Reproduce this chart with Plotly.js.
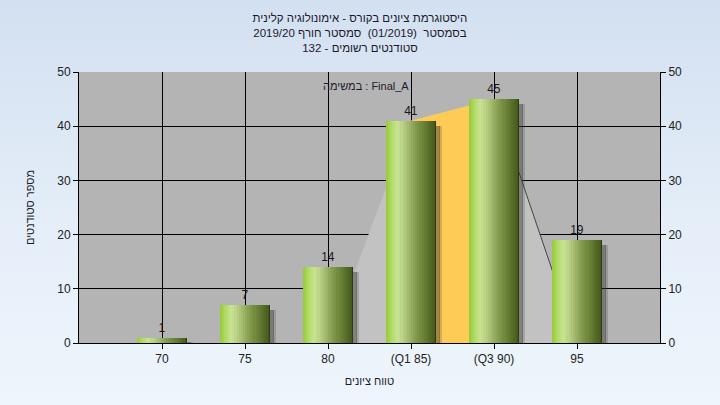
<!DOCTYPE html>
<html>
<head>
<meta charset="utf-8">
<script src="https://cdn.plot.ly/plotly-3.0.1.min.js"></script>
<style>
  html, body { margin: 0; padding: 0; }
  #chart { width: 720px; height: 405px; background: linear-gradient(to bottom, #d3e0f1 0%, #e6eff9 60%, #eef5fc 100%); }
</style>
</head>
<body>
<div id="chart"></div>
<script>
// ---- data ----
const categories = ['70', '75', '80', '(Q1 85)', '(Q3 90)', '95'];
const counts = [1, 7, 14, 41, 45, 19];
const spreadValues = [0, 0, 0, 41, 45, 0];        // light-gray spread area
const iqrValues = [null, null, null, 41, 45, null]; // Q1..Q3 highlighted band
const tailX = ['(Q3 90)', '95'];
const tailY = [45, 0];

const titleLines = [
  'היסטוגרמת ציונים בקורס - אימונולוגיה קלינית',
  'בסמסטר  (01/2019)  סמסטר חורף 2019/20',
  'סטודנטים רשומים - 132'
];
const assignmentLabel = 'במשימה : Final_A';
const xTitle = 'טווח ציונים';
const yTitle = 'מספר סטודנטים';

// ---- styling helpers ----
function hex2rgb(h) { return [parseInt(h.slice(1,3),16), parseInt(h.slice(3,5),16), parseInt(h.slice(5,7),16)]; }
const stops = [
  [0.00, '#96c834'], [0.10, '#add960'], [0.24, '#cae493'], [0.40, '#acc278'],
  [0.62, '#7e9748'], [0.85, '#586f28'], [1.00, '#43561a']
];
function gradColor(t) {
  for (let i = 0; i < stops.length - 1; i++) {
    const [t0, c0] = stops[i], [t1, c1] = stops[i + 1];
    if (t >= t0 && t <= t1) {
      const f = (t - t0) / (t1 - t0), a = hex2rgb(c0), b = hex2rgb(c1);
      return 'rgb(' + a.map((v, k) => Math.round(v + (b[k] - v) * f)).join(',') + ')';
    }
  }
  return stops[stops.length - 1][1];
}

const W = 0.61, N = 24;
const traces = [];

// spread area and IQR band (main subplot, behind bars)
traces.push({ type: 'scatter', mode: 'lines', x: categories, y: spreadValues, fill: 'tozeroy',
  fillcolor: '#c2c2c2', line: { width: 0, color: '#c2c2c2' }, hoverinfo: 'skip', showlegend: false });
traces.push({ type: 'scatter', mode: 'lines', x: categories, y: iqrValues, fill: 'tozeroy',
  fillcolor: '#fecb57', line: { width: 0, color: '#fecb57' }, hoverinfo: 'skip', showlegend: false });
traces.push({ type: 'scatter', mode: 'lines', x: tailX, y: tailY,
  line: { width: 1, color: '#444444' }, hoverinfo: 'skip', showlegend: false });

// right axis companion
traces.push({ type: 'scatter', x: categories, y: counts, yaxis: 'y2', mode: 'markers',
  marker: { opacity: 0 }, hoverinfo: 'skip', showlegend: false });

// bars on an overlaying subplot so they sit above the areas
const B = { xaxis: 'x2', yaxis: 'y3', hoverinfo: 'skip', showlegend: false };
// shadows
traces.push(Object.assign({ type: 'bar', x: categories, y: counts, base: -0.9, offset: W / 2 - 0.01, width: 0.05,
  marker: { color: 'rgba(50,50,50,0.45)', line: { width: 0 } } }, B));
traces.push(Object.assign({ type: 'bar', x: categories, y: counts, base: -0.9, offset: W / 2 + 0.035, width: 0.035,
  marker: { color: 'rgba(50,50,50,0.2)', line: { width: 0 } } }, B));
// gradient strips
for (let i = 0; i < N; i++) {
  const t = (i + 0.5) / N;
  traces.push(Object.assign({ type: 'bar', x: categories, y: counts, offset: -W / 2 + i * W / N, width: W / N + 0.002,
    marker: { color: gradColor(t), line: { width: 0 } } }, B));
}
// dark right edge
traces.push(Object.assign({ type: 'bar', x: categories, y: counts, offset: W / 2 - 0.012, width: 0.012,
  marker: { color: '#2e3a10', line: { width: 0 } } }, B));
// value labels
traces.push(Object.assign({ type: 'bar', x: categories, y: counts, width: W, text: counts.map(String),
  textposition: 'outside', cliponaxis: false,
  textfont: { family: 'Liberation Sans, Arial, sans-serif', size: 12, color: '#221414' },
  marker: { color: 'rgba(0,0,0,0)', line: { width: 0 } } }, B));

const font = 'Liberation Sans, Arial, sans-serif';
const layout = {
  width: 720, height: 405,
  margin: { l: 79, r: 60, t: 72, b: 62 },
  paper_bgcolor: 'rgba(0,0,0,0)',
  plot_bgcolor: '#b4b4b4',
  barmode: 'overlay',
  bargap: 0,
  showlegend: false,
  font: { family: font, size: 12, color: '#222222' },
  title: { text: titleLines.join('<br>'), x: 0.5, xanchor: 'center', y: 0.946, yanchor: 'top',
    font: { family: font, size: 11.5, color: '#1a1a2a' } },
  xaxis: {
    type: 'category', range: [-1, 6], fixedrange: true,
    showgrid: true, gridcolor: '#000000', gridwidth: 1,
    showline: true, linecolor: '#000000', linewidth: 1,
    ticks: 'outside', ticklen: 5, tickcolor: '#000000',
    tickfont: { family: font, size: 12, color: '#222222' },
    title: { text: xTitle, font: { family: font, size: 11, color: '#1a1a2a' }, standoff: 11 }
  },
  xaxis2: { type: 'category', overlaying: 'x', range: [-1, 6], visible: false, fixedrange: true },
  yaxis: {
    range: [0, 50], dtick: 10, fixedrange: true,
    showgrid: true, gridcolor: '#000000', gridwidth: 1, zeroline: false,
    showline: true, linecolor: '#000000', linewidth: 1,
    ticks: 'outside', ticklen: 5, tickcolor: '#000000',
    tickfont: { family: font, size: 12, color: '#222222' },
    title: { text: yTitle, font: { family: font, size: 11, color: '#1a1a2a' }, standoff: 20 }
  },
  yaxis2: {
    overlaying: 'y', side: 'right', range: [0, 50], dtick: 10, fixedrange: true,
    showgrid: false, zeroline: false,
    showline: true, linecolor: '#000000', linewidth: 1,
    ticks: 'outside', ticklen: 5, tickcolor: '#000000',
    tickfont: { family: font, size: 12, color: '#222222' }
  },
  yaxis3: { overlaying: 'y', range: [0, 50], visible: false, fixedrange: true },
  annotations: [{
    text: assignmentLabel, xref: 'paper', yref: 'paper', x: 0.572, y: 0.95,
    xanchor: 'right', yanchor: 'middle', showarrow: false,
    font: { family: font, size: 11, color: '#221a2a' }
  }]
};

Plotly.newPlot('chart', traces, layout, { staticPlot: true, displayModeBar: false });
</script>
</body>
</html>
